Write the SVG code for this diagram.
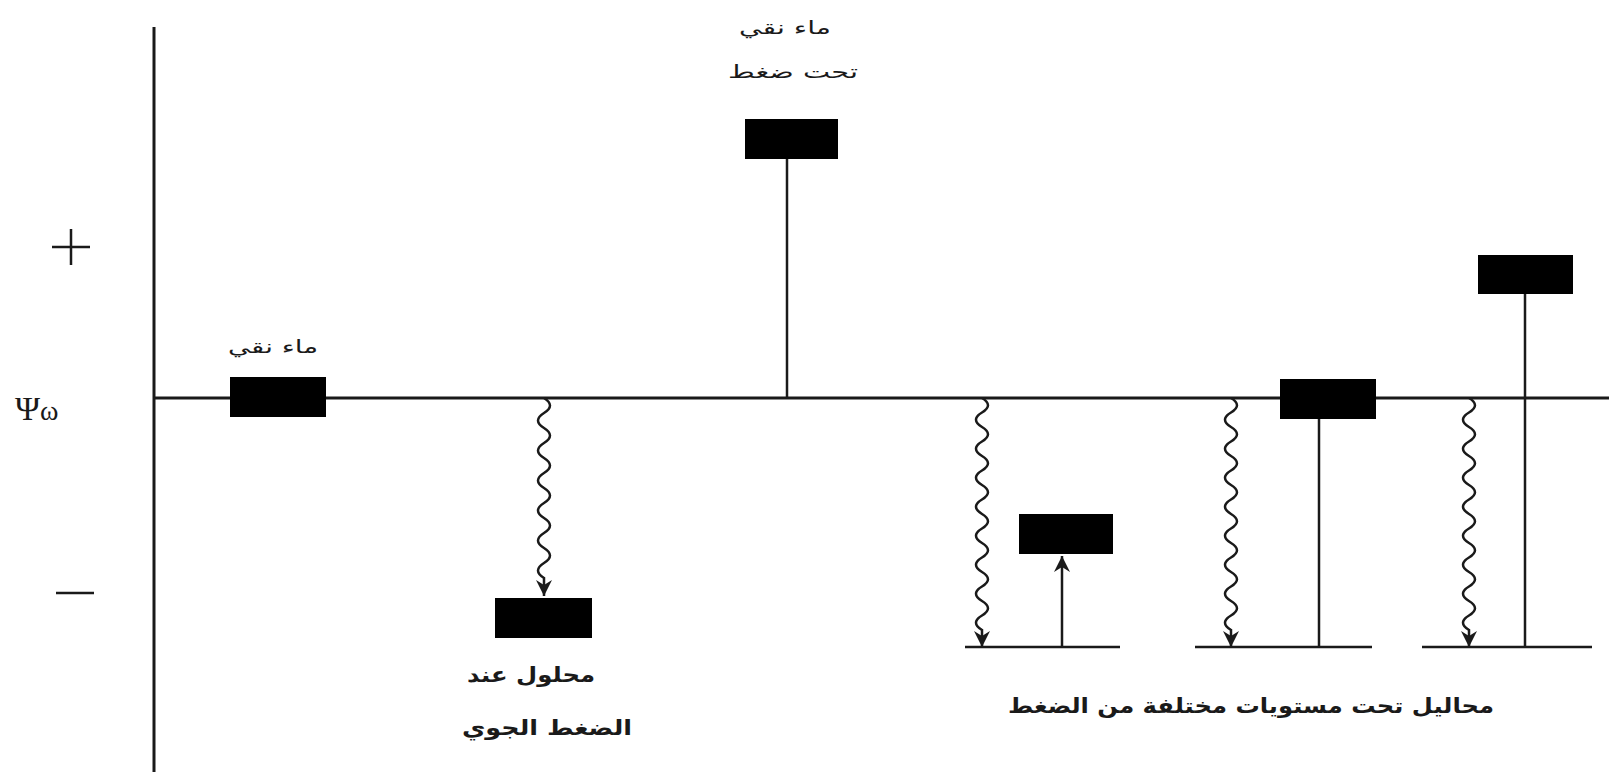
<svg xmlns="http://www.w3.org/2000/svg" width="1609" height="779" viewBox="0 0 1609 779">
<style>
.ax{stroke:#1a1a1a;stroke-width:3;fill:none}
.st{stroke:#1a1a1a;stroke-width:2.5;fill:none}
.wv{stroke:#1a1a1a;stroke-width:2.5;fill:none;marker-end:url(#ah)}
.bx{fill:#000}
.lbl{font-family:"DejaVu Sans",sans-serif;fill:#1a1a1a;text-anchor:middle}
.sm{font-size:18px}
.bd{font-size:21px;font-weight:bold}
.sym{font-family:"Liberation Serif",serif;fill:#1a1a1a}
</style>
<defs>
<marker id="ah" markerUnits="userSpaceOnUse" markerWidth="16" markerHeight="16" viewBox="0 0 16 16" refX="16" refY="8" orient="auto">
<path d="M0,0 L16,8 L0,16 L5,8 z" fill="#1a1a1a"/>
</marker>
</defs>
<rect width="1609" height="779" fill="#fff"/>
<g id="axes">
<line class="ax" x1="154" y1="27" x2="154" y2="772"/>
<line class="ax" x1="154" y1="398" x2="1609" y2="398"/>
<path class="st" d="M52,247 H90 M71,229 V265"/>
<path class="st" d="M56,593 H94"/>
<text class="sym" x="15" y="420" font-size="34">Ψ<tspan font-size="28">ω</tspan></text>
</g>
<g id="connectors">
<path class="wv" d="M544,398 q12,7.5 0,15 q-12,7.5 0,15 q12,7.5 0,15 q-12,7.5 0,15 q12,7.5 0,15 q-12,7.5 0,15 q12,7.5 0,15 q-12,7.5 0,15 q12,7.5 0,15 q-12,7.5 0,15 q12,7.5 0,15 q-12,7.5 0,15 v18"/>
<path class="wv" d="M982,398 q12,7.25 0,14.5 q-12,7.25 0,14.5 q12,7.25 0,14.5 q-12,7.25 0,14.5 q12,7.25 0,14.5 q-12,7.25 0,14.5 q12,7.25 0,14.5 q-12,7.25 0,14.5 q12,7.25 0,14.5 q-12,7.25 0,14.5 q12,7.25 0,14.5 q-12,7.25 0,14.5 q12,7.25 0,14.5 q-12,7.25 0,14.5 q12,7.25 0,14.5 q-12,7.25 0,14.5 v17"/>
<path class="wv" d="M1231,398 q12,7.25 0,14.5 q-12,7.25 0,14.5 q12,7.25 0,14.5 q-12,7.25 0,14.5 q12,7.25 0,14.5 q-12,7.25 0,14.5 q12,7.25 0,14.5 q-12,7.25 0,14.5 q12,7.25 0,14.5 q-12,7.25 0,14.5 q12,7.25 0,14.5 q-12,7.25 0,14.5 q12,7.25 0,14.5 q-12,7.25 0,14.5 q12,7.25 0,14.5 q-12,7.25 0,14.5 v17"/>
<path class="wv" d="M1469,398 q12,7.25 0,14.5 q-12,7.25 0,14.5 q12,7.25 0,14.5 q-12,7.25 0,14.5 q12,7.25 0,14.5 q-12,7.25 0,14.5 q12,7.25 0,14.5 q-12,7.25 0,14.5 q12,7.25 0,14.5 q-12,7.25 0,14.5 q12,7.25 0,14.5 q-12,7.25 0,14.5 q12,7.25 0,14.5 q-12,7.25 0,14.5 q12,7.25 0,14.5 q-12,7.25 0,14.5 v17"/>
<line class="wv" x1="1062" y1="647" x2="1062" y2="556"/>
<line class="st" x1="787" y1="159" x2="787" y2="398"/>
<line class="st" x1="1319" y1="419" x2="1319" y2="647"/>
<line class="st" x1="1525" y1="294" x2="1525" y2="647"/>
<line class="st" x1="965" y1="647" x2="1120" y2="647"/>
<line class="st" x1="1195" y1="647" x2="1372" y2="647"/>
<line class="st" x1="1422" y1="647" x2="1592" y2="647"/>
</g>
<g id="pure-water">
<rect class="bx" x="230" y="377" width="96" height="40"/>
<text class="lbl sm" x="273" y="353" textLength="90" lengthAdjust="spacingAndGlyphs">ماء نقي</text>
</g>
<g id="pure-water-pressure">
<rect class="bx" x="745" y="119" width="93" height="40"/>
<text class="lbl sm" x="785" y="34" textLength="92" lengthAdjust="spacingAndGlyphs">ماء نقي</text>
<text class="lbl sm" x="793" y="78" textLength="130" lengthAdjust="spacingAndGlyphs">تحت ضغط</text>
</g>
<g id="solution-atm">
<rect class="bx" x="495" y="598" width="97" height="40"/>
<text class="lbl bd" x="531" y="682" textLength="128" lengthAdjust="spacingAndGlyphs">محلول عند</text>
<text class="lbl bd" x="547" y="735" textLength="170" lengthAdjust="spacingAndGlyphs">الضغط الجوي</text>
</g>
<g id="solution-1">
<rect class="bx" x="1019" y="514" width="94" height="40"/>
</g>
<g id="solution-2">
<rect class="bx" x="1280" y="379" width="96" height="40"/>
</g>
<g id="solution-3">
<rect class="bx" x="1478" y="255" width="95" height="39"/>
</g>
<text class="lbl bd" x="1251" y="713" textLength="486" lengthAdjust="spacingAndGlyphs">محاليل تحت مستويات مختلفة من الضغط</text>
</svg>
